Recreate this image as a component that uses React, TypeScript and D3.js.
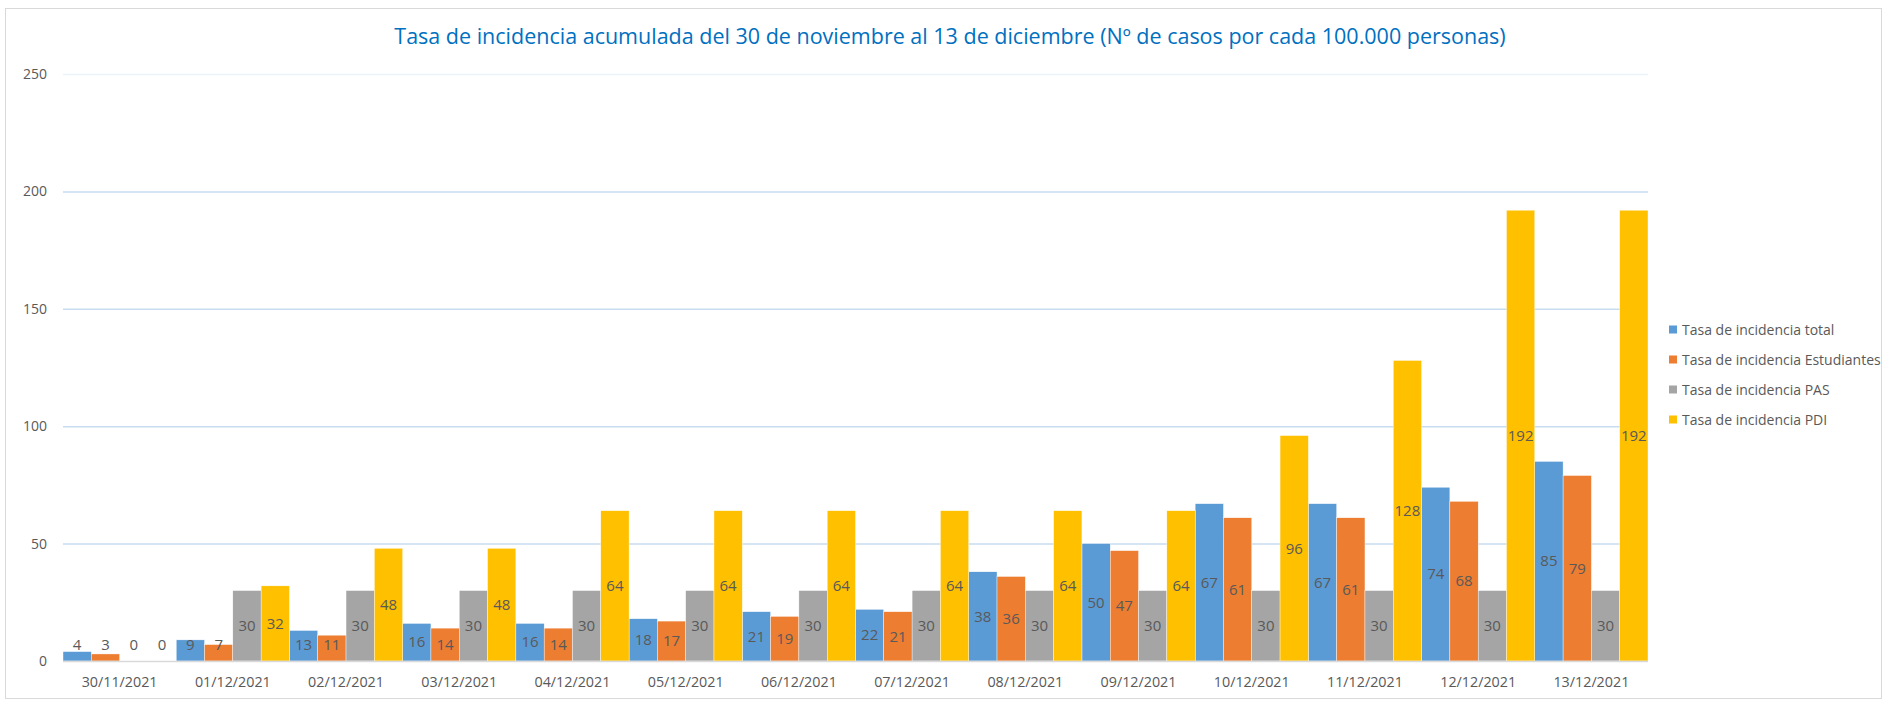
import React, { useRef, useEffect } from "react";
import * as d3 from "d3";

// fechas (eje X)
const fechas = [
  "30/11/2021", "01/12/2021", "02/12/2021", "03/12/2021", "04/12/2021",
  "05/12/2021", "06/12/2021", "07/12/2021", "08/12/2021", "09/12/2021",
  "10/12/2021", "11/12/2021", "12/12/2021", "13/12/2021",
];

const tasaTotal = [4, 9, 13, 16, 16, 18, 21, 22, 38, 50, 67, 67, 74, 85];
const tasaEstudiantes = [3, 7, 11, 14, 14, 17, 19, 21, 36, 47, 61, 61, 68, 79];
const tasaPAS = [0, 30, 30, 30, 30, 30, 30, 30, 30, 30, 30, 30, 30, 30];
const tasaPDI = [0, 32, 48, 48, 64, 64, 64, 64, 64, 64, 96, 128, 192, 192];

const seriesNames = [
  "Tasa de incidencia total",
  "Tasa de incidencia Estudiantes",
  "Tasa de incidencia PAS",
  "Tasa de incidencia PDI",
];
const seriesColors = ["#5B9BD5", "#ED7D31", "#A5A5A5", "#FFC000"];
const yTicks = [0, 50, 100, 150, 200, 250];

const TITLE =
  "Tasa de incidencia acumulada del 30 de noviembre al 13 de diciembre (Nº de casos por cada 100.000 personas)";

const W = 1888;
const H = 702;
const FONT = "'Open Sans', 'Liberation Sans', sans-serif";

const App = () => {
  const ref = useRef<SVGSVGElement | null>(null);

  useEffect(() => {
    if (!ref.current) return;
    const svg = d3.select(ref.current);
    svg.selectAll("*").remove();

    const allSeries = [tasaTotal, tasaEstudiantes, tasaPAS, tasaPDI];

    // area del grafico
    const left = 63;
    const right = 1648;
    const top = 74;
    const bottom = 661;

    const x = d3.scaleBand<string>().domain(fechas).range([left, right]).padding(0);
    const xInner = d3
      .scaleBand<number>()
      .domain(d3.range(allSeries.length))
      .range([0, x.bandwidth()])
      .padding(0);
    const y = d3.scaleLinear().domain([0, 250]).range([bottom, top]);

    // marco
    svg
      .append("rect")
      .attr("x", 5.5)
      .attr("y", 8.5)
      .attr("width", 1876)
      .attr("height", 690)
      .attr("fill", "#fff")
      .attr("stroke", "#D9D9D9");

    // titulo
    svg
      .append("text")
      .attr("x", 950)
      .attr("y", 44)
      .attr("text-anchor", "middle")
      .style("font-family", FONT)
      .style("font-size", "21.5px")
      .style("fill", "#0070C0")
      .text(TITLE);

    // lineas de cuadricula
    svg
      .append("g")
      .selectAll("line")
      .data(yTicks.filter((t) => t > 0))
      .enter()
      .append("line")
      .attr("x1", left)
      .attr("x2", right)
      .attr("y1", (d) => y(d) + 0.5)
      .attr("y2", (d) => y(d) + 0.5)
      .attr("stroke", (d) => (d === 250 ? "#EAF2FA" : "#C9DDF0"))
      .attr("stroke-width", 1.5);

    // etiquetas eje Y
    svg
      .append("g")
      .selectAll("text")
      .data(yTicks)
      .enter()
      .append("text")
      .attr("x", 47)
      .attr("y", (d) => y(d))
      .attr("dy", "0.35em")
      .attr("text-anchor", "end")
      .style("font-family", FONT)
      .style("font-size", "14px")
      .style("fill", "#595959")
      .text((d) => d);

    // barras
    allSeries.forEach((values, si) => {
      const g = svg.append("g");
      g.selectAll("rect")
        .data(values)
        .enter()
        .append("rect")
        .attr("x", (_, i) => (x(fechas[i]) as number) + (xInner(si) as number))
        .attr("y", (d) => y(d))
        .attr("width", xInner.bandwidth())
        .attr("height", (d) => y(0) - y(d))
        .attr("fill", seriesColors[si])
        .attr("stroke", "#fff")
        .attr("stroke-width", 0.4);
    });

    // eje X
    svg
      .append("line")
      .attr("x1", left)
      .attr("x2", right)
      .attr("y1", bottom + 0.5)
      .attr("y2", bottom + 0.5)
      .attr("stroke", "#D9D9D9")
      .attr("stroke-width", 1.5);

    // etiquetas de datos (centradas)
    allSeries.forEach((values, si) => {
      svg
        .append("g")
        .selectAll("text")
        .data(values)
        .enter()
        .append("text")
        .attr(
          "x",
          (_, i) => (x(fechas[i]) as number) + (xInner(si) as number) + xInner.bandwidth() / 2
        )
        .attr("y", (d) => Math.min((y(d) + y(0)) / 2, y(0) - 16))
        .attr("dy", "0.35em")
        .attr("text-anchor", "middle")
        .style("font-family", FONT)
        .style("font-size", "15px")
        .style("fill", "#595959")
        .text((d) => d);
    });

    // etiquetas eje X
    svg
      .append("g")
      .selectAll("text")
      .data(fechas)
      .enter()
      .append("text")
      .attr("x", (d) => (x(d) as number) + x.bandwidth() / 2)
      .attr("y", 682)
      .attr("dy", "0.35em")
      .attr("text-anchor", "middle")
      .style("font-family", FONT)
      .style("font-size", "14.3px")
      .style("fill", "#595959")
      .text((d) => d);

    // leyenda
    const legend = svg
      .append("g")
      .selectAll("g")
      .data(seriesNames)
      .enter()
      .append("g")
      .attr("transform", (_, i) => `translate(1669, ${330 + i * 30})`);
    legend
      .append("rect")
      .attr("x", 0)
      .attr("y", -4.5)
      .attr("width", 8)
      .attr("height", 8)
      .attr("fill", (_, i) => seriesColors[i]);
    legend
      .append("text")
      .attr("x", 13)
      .attr("y", 0)
      .attr("dy", "0.35em")
      .style("font-family", FONT)
      .style("font-size", "14px")
      .style("fill", "#595959")
      .text((d) => d);
  }, []);

  return (
    <svg
      ref={ref}
      width={W}
      height={H}
      style={{ position: "absolute", left: 0, top: 0, background: "#fff" }}
    />
  );
};

export default App;
